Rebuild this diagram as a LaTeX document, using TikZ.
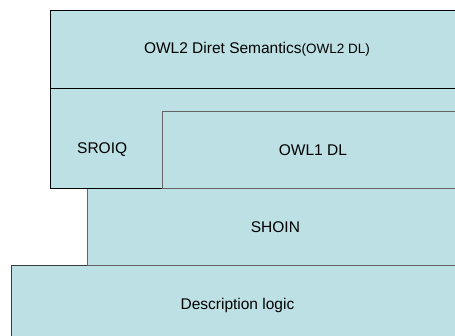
\documentclass[tikz,border=0pt]{standalone}
\usepackage{fontspec}
\setmainfont{Liberation Sans}
\usetikzlibrary{positioning}
\definecolor{layerfill}{RGB}{188,224,227}
\definecolor{edgegray}{RGB}{100,100,100}
\definecolor{edgedark}{RGB}{60,60,60}

\begin{document}
\begin{tikzpicture}[x=1pt, y=1pt,
    layer/.style={draw, line width=0.9pt, fill=layerfill, inner sep=0pt, anchor=north west,
        font=\fontsize{15.5}{18}\selectfont}]
    \useasboundingbox (0,0) rectangle (455,335);
    \clip (0,0) rectangle (455,335);
    % bottom layers first
    \node[layer, draw=edgedark, minimum width=452pt, minimum height=80pt] (dl) at (11,70) {Description logic};
    \node[layer, draw=edgegray, minimum width=376pt, minimum height=77pt] (shoin) at (87,147) {SHOIN};
    % upper layers
    \node[layer, minimum width=413pt, minimum height=78pt] (owltwo) at (50,325)
        {OWL2 Diret Semantics{\fontsize{13.5}{16}\selectfont(OWL2 DL)}};
    \node[layer, minimum width=413pt, minimum height=100pt] (sroiq) at (50,247) {};
    \node[layer, draw=edgegray, minimum width=301pt, minimum height=77pt] (owlone) at (162,224) {OWL1 DL};
    \node[font=\fontsize{15.5}{18}\selectfont, inner sep=0pt, anchor=west, right=27pt of owlone.west -| sroiq.west] (sroiqtext) {SROIQ};
\end{tikzpicture}
\end{document}
